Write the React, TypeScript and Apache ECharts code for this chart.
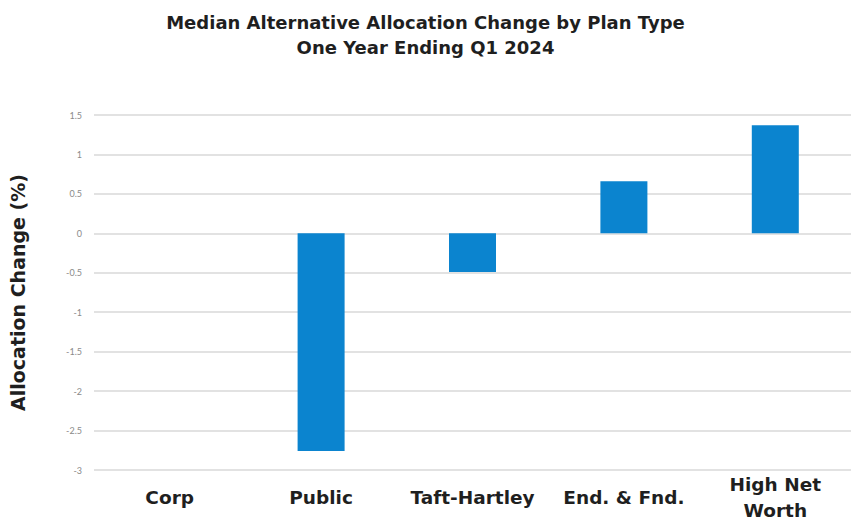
import React, { useEffect, useRef } from "react";
import * as echarts from "echarts";

const titleText = "Median Alternative Allocation Change by Plan Type\nOne Year Ending Q1 2024";
const categories = ["Corp", "Public", "Taft-Hartley", "End. & Fnd.", "High Net\nWorth"];
const values = [0, -2.76, -0.49, 0.66, 1.37];
const yAxisName = "Allocation Change (%)";

const boldFont = "DejaVu Sans";

export default function App() {
  const ref = useRef<HTMLDivElement>(null);
  useEffect(() => {
    if (!ref.current) return;
    const chart = echarts.init(ref.current, undefined, { renderer: "svg" });
    chart.setOption({
      animation: false,
      backgroundColor: "#ffffff",
      title: {
        text: titleText,
        left: "center",
        top: 5,
        textStyle: {
          fontFamily: boldFont,
          fontWeight: "bold",
          fontSize: 18,
          lineHeight: 25,
          color: "#1f1f1f",
        },
      },
      grid: { left: 85, right: 0, top: 115, bottom: 59 },
      xAxis: {
        type: "category",
        data: categories,
        axisLine: { show: false },
        axisTick: { show: false },
        axisLabel: {
          interval: 0,
          margin: 27,
          verticalAlign: "middle",
          fontFamily: boldFont,
          fontWeight: "bold",
          fontSize: 18.5,
          lineHeight: 26,
          color: "#1f1f1f",
        },
      },
      yAxis: {
        type: "value",
        min: -3,
        max: 1.5,
        interval: 0.5,
        name: yAxisName,
        nameLocation: "middle",
        nameGap: 67,
        nameTextStyle: {
          fontFamily: boldFont,
          fontWeight: "bold",
          fontSize: 19,
          color: "#1f1f1f",
        },
        axisLine: { show: false },
        axisTick: { show: false },
        axisLabel: {
          margin: 12,
          fontFamily: "Lato",
          fontSize: 9,
          color: "#8a8a8a",
        },
        splitLine: { lineStyle: { color: "#d9d9d9", width: 1.5 } },
      },
      series: [
        {
          type: "bar",
          data: values,
          barWidth: 47,
          itemStyle: { color: "#0b84cf" },
        },
      ],
    });
    return () => chart.dispose();
  }, []);
  return (
    <div
      ref={ref}
      style={{ position: "absolute", left: 0, top: 0, width: 851, height: 529 }}
    />
  );
}
